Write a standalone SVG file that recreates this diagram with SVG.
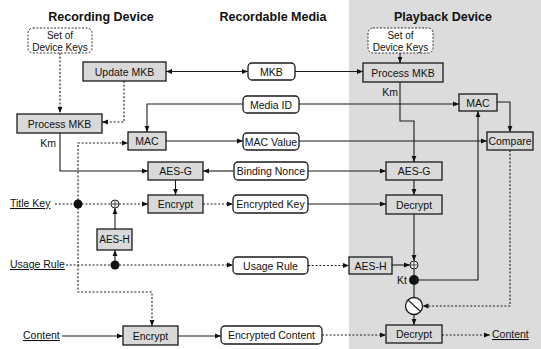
<svg xmlns="http://www.w3.org/2000/svg" width="541" height="349" viewBox="0 0 541 349">
<style>
.box{fill:#d9d9d9;stroke:#1a1a1a;stroke-width:1.3}
.rbox{fill:#fff;stroke:#1a1a1a;stroke-width:1.3}
.keys{fill:#fff;stroke:#333;stroke-width:1;stroke-dasharray:2 1.5}
.t{font-family:"Liberation Sans",Arial,sans-serif;font-size:10.5px;fill:#111;text-anchor:middle}
.h{font-weight:bold;font-size:12.5px}
.u{text-decoration:underline;text-anchor:start}
.c{fill:none;stroke:#1a1a1a;stroke-width:1.1}
.a{marker-end:url(#ah)}
.d{stroke-dasharray:2 1.8}
.dot{fill:#111}
.xor{fill:#fff;stroke:#1a1a1a;stroke-width:1}
</style>
<defs>
<marker id="ah" viewBox="0 0 10 10" refX="10" refY="5" markerWidth="6" markerHeight="6" orient="auto-start-reverse" markerUnits="userSpaceOnUse"><path d="M0,1 L10,5 L0,9 z" fill="#111"/></marker>
</defs>
<rect x="0" y="0" width="541" height="349" fill="#fff"/>
<rect x="349" y="0" width="192" height="349" fill="#dcdcdc"/>
<g id="titles">
<text class="t h" x="101" y="21">Recording Device</text>
<text class="t h" x="273" y="21">Recordable Media</text>
<text class="t h" x="443" y="21">Playback Device</text>
</g>
<g id="connectors">
<path class="c a d" d="M60,53 V113"/>
<path class="c a" style="marker-start:url(#ah)" d="M166,71.5 H248"/>
<path class="c a" d="M295,71.5 H363"/>
<path class="c a" d="M400,53 V63"/>
<path class="c a d" d="M124,81 V122 H102"/>
<path class="c a" d="M60,133 V171 H148"/>
<path class="c a" d="M243,104 H147 V132"/>
<path class="c a" d="M299,104 H459"/>
<path class="c a" d="M497,102 H510 V132"/>
<path class="c a" d="M400,82 V121 H414 V162"/>
<path class="c a" d="M166,141 H243"/>
<path class="c a" d="M299,141 H487"/>
<path class="c a" d="M234,171 H203"/>
<path class="c a" d="M308,171 H386"/>
<path class="c a" d="M175.5,180 V195"/>
<path class="c a" d="M414,180 V195"/>
<path class="c d" d="M55,204 H111"/>
<path class="c a d" d="M119,204 H148"/>
<path class="c a" d="M115,229 V208"/>
<path class="c a d" d="M66,265 H233"/>
<path class="c a" d="M115,265 V250"/>
<path class="c a d" d="M78,204 V143 H128"/>
<path class="c a d" d="M78,204 V292 H152 V326"/>
<path class="c a d" d="M203,204 H233"/>
<path class="c a" d="M308,204 H386"/>
<path class="c a d" d="M308,265.5 H349"/>
<path class="c a" d="M392,265 H410"/>
<path class="c a" d="M414,214 V261"/>
<path class="c" d="M414,269 V275"/>
<path class="c" d="M414,285 V297.5"/>
<path class="c a" d="M414,314.5 V325"/>
<path class="c a d" d="M510,150 V306 H422.5"/>
<path class="c a" d="M414,280 H478 V111"/>
<path class="c a" d="M62,336 H123"/>
<path class="c a" d="M178,336 H221"/>
<path class="c a d" d="M322,335 H386"/>
<path class="c a d" d="M442,335 H490"/>
</g>
<g id="keysR"><rect class="keys" x="28" y="28" width="64" height="25" rx="5"/><text class="t" x="60" y="39" style="font-size:10px">Set of</text><text class="t" x="60" y="51" style="font-size:10px">Device Keys</text></g>
<g id="keysP"><rect class="keys" x="368" y="28" width="65" height="25" rx="5"/><text class="t" x="400.5" y="39" style="font-size:10px">Set of</text><text class="t" x="400.5" y="51" style="font-size:10px">Device Keys</text></g>
<g id="updateMKB"><rect class="box" x="83" y="62" width="83" height="19"/><text class="t" x="124.5" y="75.5">Update MKB</text></g>
<g id="mkb"><rect class="rbox" x="248" y="63" width="47" height="17" rx="4"/><text class="t" x="271.5" y="75.5">MKB</text></g>
<g id="processMKBP"><rect class="box" x="363" y="63" width="80" height="19"/><text class="t" x="403" y="76.5">Process MKB</text></g>
<g id="mediaID"><rect class="rbox" x="243" y="96" width="56" height="17" rx="4"/><text class="t" x="271" y="108.5">Media ID</text></g>
<g id="macP"><rect class="box" x="459" y="94" width="38" height="17"/><text class="t" x="478" y="106.5">MAC</text></g>
<g id="processMKBR"><rect class="box" x="17" y="114" width="85" height="19"/><text class="t" x="59.5" y="127.5">Process MKB</text></g>
<text class="t" x="48" y="147">Km</text>
<text class="t" x="390" y="96">Km</text>
<g id="macR"><rect class="box" x="128" y="132" width="38" height="18"/><text class="t" x="147" y="145">MAC</text></g>
<g id="macValue"><rect class="rbox" x="243" y="133" width="56" height="17" rx="4"/><text class="t" x="271" y="145.5">MAC Value</text></g>
<g id="compare"><rect class="box" x="487" y="132" width="46" height="18"/><text class="t" x="510" y="145">Compare</text></g>
<g id="aesgR"><rect class="box" x="148" y="162" width="55" height="18"/><text class="t" x="175.5" y="175">AES-G</text></g>
<g id="bindingNonce"><rect class="rbox" x="234" y="162" width="74" height="18" rx="4"/><text class="t" x="271" y="175">Binding Nonce</text></g>
<g id="aesgP"><rect class="box" x="386" y="162" width="56" height="18"/><text class="t" x="414" y="175">AES-G</text></g>
<g id="titleKey"><text class="t u" x="10" y="207">Title Key</text></g>
<g id="dot1"><circle class="dot" cx="78" cy="204" r="4.5"/></g>
<g id="xorR"><circle class="xor" cx="115" cy="204" r="4"/><path class="c" d="M112,204 H118 M115,201 V207" style="stroke-width:0.8"/></g>
<g id="encryptR"><rect class="box" x="148" y="195" width="55" height="18"/><text class="t" x="175.5" y="208">Encrypt</text></g>
<g id="encryptedKey"><rect class="rbox" x="233" y="195" width="75" height="18" rx="4"/><text class="t" x="270.5" y="208">Encrypted Key</text></g>
<g id="decryptP"><rect class="box" x="386" y="195" width="56" height="19"/><text class="t" x="414" y="208.5">Decrypt</text></g>
<g id="aeshR"><rect class="box" x="97" y="229" width="35" height="21"/><text class="t" x="114.5" y="243" style="font-size:10px">AES-H</text></g>
<g id="usageRuleText"><text class="t u" x="10" y="268">Usage Rule</text></g>
<g id="dot2"><circle class="dot" cx="115" cy="265" r="4.5"/></g>
<g id="usageRule"><rect class="rbox" x="233" y="257" width="75" height="17" rx="4"/><text class="t" x="270.5" y="269.5">Usage Rule</text></g>
<g id="aeshP"><rect class="box" x="349" y="257" width="43" height="17"/><text class="t" x="370.5" y="269.5">AES-H</text></g>
<g id="xorP"><circle class="xor" cx="414" cy="265" r="4"/><path class="c" d="M411,265 H417 M414,262 V268" style="stroke-width:0.8"/></g>
<g id="kt"><circle class="dot" cx="414" cy="280" r="5"/><text class="t" x="402" y="284">Kt</text></g>
<g id="switch"><circle class="xor" cx="414" cy="306" r="8.5" style="stroke-width:1.3"/><path class="c" d="M408,300 L420,311"/></g>
<g id="contentR"><text class="t u" x="23" y="339">Content</text></g>
<g id="encryptBot"><rect class="box" x="123" y="326" width="55" height="19"/><text class="t" x="150.5" y="339.5">Encrypt</text></g>
<g id="encryptedContent"><rect class="rbox" x="221" y="326" width="101" height="18" rx="4"/><text class="t" x="271.5" y="339">Encrypted Content</text></g>
<g id="decryptBot"><rect class="box" x="386" y="325" width="56" height="18"/><text class="t" x="414" y="338">Decrypt</text></g>
<g id="contentP"><text class="t u" x="492" y="338">Content</text></g>
</svg>
